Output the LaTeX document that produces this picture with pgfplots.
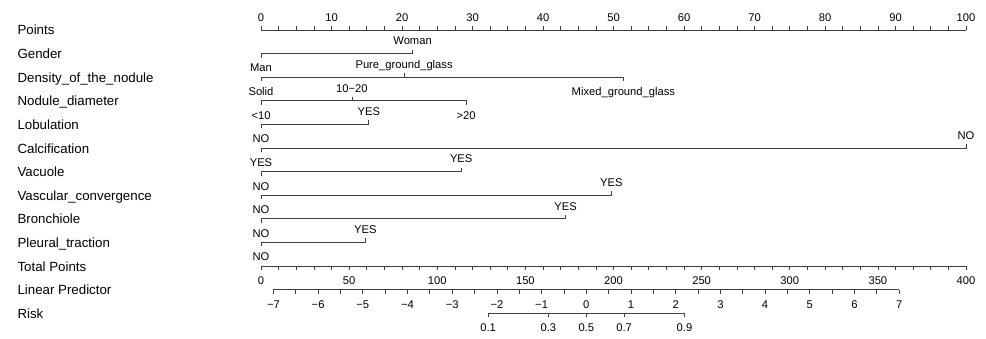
\documentclass[border=0pt]{standalone}
\usepackage{pgfplots}
\pgfplotsset{compat=1.18}
\usepackage{fontspec}
\setmainfont{Liberation Sans}
\newcommand{\varfont}{\fontsize{13.3bp}{16bp}\selectfont}
\newcommand{\smfont}{\fontsize{11.2bp}{13bp}\selectfont}
\tikzset{
  lab/.style={font=\smfont, anchor=base},
  row/.style={font=\varfont, anchor=base west, xshift=-247bp},
}
\begin{document}
\begin{tikzpicture}
\path[use as bounding box] (0,0) rectangle (986bp,339bp);
\pgfplotsset{
  scalebase/.style={scale only axis, height=1bp, ymin=0, ymax=1,
    axis y line=none, tick align=outside,
    major tick length=4bp, minor tick length=4bp,
    tick style={black!75, line width=0.75bp},
    x axis line style={black!75, line width=0.75bp},
    tick label style={font=\smfont},
    xticklabel style={anchor=base, inner sep=0pt},
    clip=false},
  vl/.style={black!75, line width=0.75bp, mark=none, solid},
}
% Points scale
\begin{axis}[scalebase, at={(261bp,309bp)}, anchor=north west, width=705bp,
  axis x line*=top, xmin=0, xmax=100,
  xtick={0,10,...,100}, minor x tick num=3,
  xticklabels={0,10,20,30,40,50,60,70,80,90,100},
  xticklabel style={yshift=4.7bp}]
\addplot[draw=none] coordinates {(0,0)(100,0)};
\end{axis}
% Total points
\begin{axis}[scalebase, at={(261bp,73bp)}, anchor=south west, width=705bp,
  axis x line*=bottom, xmin=0, xmax=400,
  xtick={0,50,...,400}, minor x tick num=4,
  xticklabels={0,50,100,150,200,250,300,350,400},
  xticklabel style={yshift=-14.4bp}]
\addplot[draw=none] coordinates {(0,0)(400,0)};
\end{axis}
% Linear predictor
\begin{axis}[scalebase, at={(273.4bp,49.4bp)}, anchor=south west, width=625.8bp,
  axis x line*=bottom, xmin=-7, xmax=7,
  xtick={-7,-6,...,7}, minor x tick num=1,
  xticklabels={−7,−6,−5,−4,−3,−2,−1,0,1,2,3,4,5,6,7},
  xticklabel style={yshift=-14.4bp}]
\addplot[draw=none] coordinates {(-7,0)(7,0)};
\end{axis}
% Risk
\begin{axis}[scalebase, at={(488.08bp,25.8bp)}, anchor=south west, width=196.43bp,
  axis x line*=bottom, xmin=-2.1972, xmax=2.1972,
  xtick={-2.1972,-0.8473,0,0.8473,2.1972},
  xticklabels={0.1,0.3,0.5,0.7,0.9},
  xticklabel style={yshift=-14.4bp}]
\addplot[draw=none] coordinates {(-2.1972,0)(2.1972,0)};
\end{axis}
% Variables
\begin{axis}[at={(261bp,0bp)}, anchor=south west, scale only axis,
  width=705bp, height=339bp, xmin=0, xmax=100, ymin=0, ymax=339,
  y dir=reverse, hide axis, clip=false]
\addplot[vl] coordinates {(0,57.6)(0,53.6)(21.5,53.6)(21.5,49.6)};
\addplot[vl] coordinates {(0,81.2)(0,77.2)(51.4,77.2)(51.4,81.2)};
\addplot[vl] coordinates {(20.3,77.2)(20.3,73.2)};
\addplot[vl] coordinates {(0,104.8)(0,100.8)(29.1,100.8)(29.1,104.8)};
\addplot[vl] coordinates {(12.9,100.8)(12.9,96.8)};
\addplot[vl] coordinates {(0,128.4)(0,124.4)(15.3,124.4)(15.3,120.4)};
\addplot[vl] coordinates {(0,152)(0,148)(100,148)(100,144)};
\addplot[vl] coordinates {(0,175.6)(0,171.6)(28.4,171.6)(28.4,167.6)};
\addplot[vl] coordinates {(0,199.2)(0,195.2)(49.7,195.2)(49.7,191.2)};
\addplot[vl] coordinates {(0,222.8)(0,218.8)(43.2,218.8)(43.2,214.8)};
\addplot[vl] coordinates {(0,246.4)(0,242.4)(14.8,242.4)(14.8,238.4)};
% value labels
\node[lab] at (axis cs:21.5,44.9) {Woman};
\node[lab] at (axis cs:0,72.0) {Man};
\node[lab] at (axis cs:20.3,68.5) {Pure\_ground\_glass};
\node[lab] at (axis cs:0,95.6) {Solid};
\node[lab] at (axis cs:51.4,95.6) {Mixed\_ground\_glass};
\node[lab] at (axis cs:12.9,92.1) {10−20};
\node[lab] at (axis cs:0,119.2) {<10};
\node[lab] at (axis cs:29.1,119.2) {>20};
\node[lab] at (axis cs:15.3,115.7) {YES};
\node[lab] at (axis cs:0,142.8) {NO};
\node[lab] at (axis cs:100,139.3) {NO};
\node[lab] at (axis cs:0,166.4) {YES};
\node[lab] at (axis cs:28.4,162.9) {YES};
\node[lab] at (axis cs:0,190.0) {NO};
\node[lab] at (axis cs:49.7,186.5) {YES};
\node[lab] at (axis cs:0,213.6) {NO};
\node[lab] at (axis cs:43.2,210.1) {YES};
\node[lab] at (axis cs:0,237.2) {NO};
\node[lab] at (axis cs:14.8,233.7) {YES};
\node[lab] at (axis cs:0,260.8) {NO};
% row labels
\node[row] at (axis cs:0,35.0) {Points};
\node[row] at (axis cs:0,58.6) {Gender};
\node[row] at (axis cs:0,82.2) {Density\_of\_the\_nodule};
\node[row] at (axis cs:0,105.8) {Nodule\_diameter};
\node[row] at (axis cs:0,129.4) {Lobulation};
\node[row] at (axis cs:0,153.0) {Calcification};
\node[row] at (axis cs:0,176.6) {Vacuole};
\node[row] at (axis cs:0,200.2) {Vascular\_convergence};
\node[row] at (axis cs:0,223.8) {Bronchiole};
\node[row] at (axis cs:0,247.4) {Pleural\_traction};
\node[row] at (axis cs:0,271.0) {Total Points};
\node[row] at (axis cs:0,294.6) {Linear Predictor};
\node[row] at (axis cs:0,318.2) {Risk};
\end{axis}
\end{tikzpicture}
\end{document}
